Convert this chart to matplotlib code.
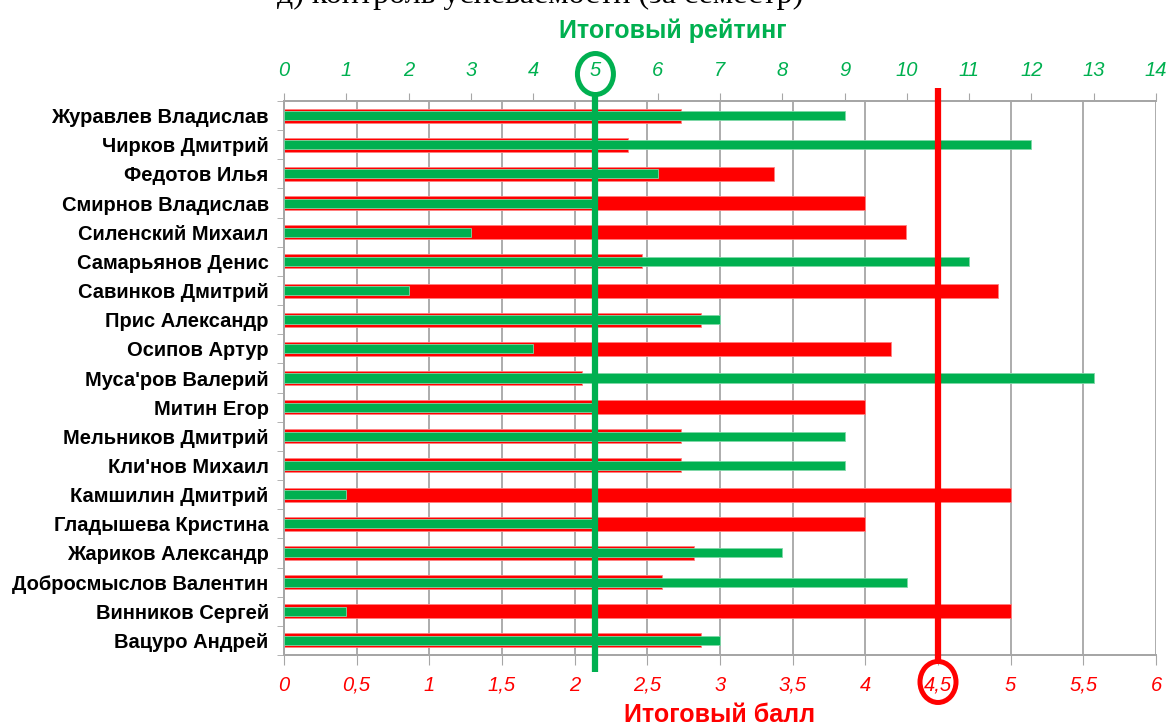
import matplotlib
matplotlib.use("Agg")
import matplotlib.pyplot as plt
import numpy as np
from matplotlib.patches import Ellipse
from matplotlib.transforms import blended_transform_factory

# данные с диаграммы
students = ["Журавлев Владислав", "Чирков Дмитрий", "Федотов Илья", "Смирнов Владислав",
            "Силенский Михаил", "Самарьянов Денис", "Савинков Дмитрий", "Прис Александр",
            "Осипов Артур", "Муса'ров Валерий", "Митин Егор", "Мельников Дмитрий",
            "Кли'нов Михаил", "Камшилин Дмитрий", "Гладышева Кристина", "Жариков Александр",
            "Добросмыслов Валентин", "Винников Сергей", "Вацуро Андрей"]
rating = [9, 12, 6, 5, 3, 11, 2, 7, 4, 13, 5, 9, 9, 1, 5, 8, 10, 1, 7]
score = [2.73, 2.37, 3.37, 4.0, 4.28, 2.46, 4.91, 2.87, 4.18, 2.05,
         4.0, 2.73, 2.73, 5.0, 4.0, 2.82, 2.6, 5.0, 2.87]
score_ticks = np.arange(0, 6.01, 0.5)
rating_ticks = np.arange(0, 15)
rating_limit = 5
score_limit = 4.5

RED = "#FF0000"
GREEN = "#00B050"
GRID = "#A6A6A6"

plt.rcParams['font.family'] = ['Liberation Sans', 'DejaVu Sans']

fig = plt.figure(figsize=(11.68, 7.27), dpi=100)
ax = fig.add_axes([284 / 1168, 1 - 655 / 727, 872 / 1168, 554 / 727])
ax2 = ax.twiny()

y = np.arange(len(students))

# красные полосы - итоговый балл (нижняя шкала)
ax.barh(y, score, height=0.48, color=RED, edgecolor="#FF8080", linewidth=0.6, zorder=2)
ax.set_xlim(0, 6)
ax.set_xticks(score_ticks)
ax.set_xticklabels([f"{v:g}".replace(".", ",") for v in score_ticks],
                   color=RED, fontsize=14.5, style="italic")
ax.xaxis.grid(True, color=GRID, lw=1.3)
ax.set_axisbelow(True)
ax.tick_params(axis="x", direction="out", length=7, color=GRID, pad=8)

ax.set_ylim(len(students) - 0.5, -0.5)
ax.set_yticks(y)
ax.set_yticklabels(students, fontsize=14.5, fontweight="bold")
ax.set_yticks(np.arange(-0.5, len(students)), minor=True)
ax.tick_params(axis="y", which="major", length=0, pad=11)
ax.tick_params(axis="y", which="minor", length=5, color=GRID, direction="out")

for a in (ax, ax2):
    for s in a.spines.values():
        s.set_color(GRID)
        s.set_linewidth(1.3)
    a.spines["right"].set_visible(False)

ax.set_xlabel("Итоговый балл", color=RED, fontsize=18, fontweight="bold")
ax.xaxis.set_label_coords(0.5, -0.086)

# зеленые полосы - итоговый рейтинг (верхняя шкала)
ax2.barh(y, rating, height=0.31, color=GREEN, edgecolor="#80D8A8", linewidth=0.6, zorder=3)
ax2.set_xlim(0, 14)
ax2.set_xticks(rating_ticks)
ax2.set_xticklabels([str(v) for v in rating_ticks], color=GREEN, fontsize=14.5, style="italic")
ax2.tick_params(axis="x", direction="out", length=6, color=GRID, pad=9)
ax2.set_xlabel("Итоговый рейтинг", color=GREEN, fontsize=18, fontweight="bold")
ax2.xaxis.set_label_coords(0.446, 1.114)

# пороговые линии и кружки
tr_green = blended_transform_factory(ax2.transData, ax2.transAxes)
tr_red = blended_transform_factory(ax.transData, ax2.transAxes)
ax2.plot([rating_limit, rating_limit], [1.013, -0.031], color=GREEN, lw=4.5,
         transform=tr_green, clip_on=False, zorder=5, solid_capstyle="butt")
ax2.plot([score_limit, score_limit], [1.0235, -0.0115], color=RED, lw=4.5,
         transform=tr_red, clip_on=False, zorder=6, solid_capstyle="butt")
ax2.add_patch(Ellipse((rating_limit, 1.0487), 36 / 62.3, 41 / 554, transform=tr_green,
                      fill=False, edgecolor=GREEN, lw=3.6, clip_on=False, zorder=5))
ax2.add_patch(Ellipse((score_limit, -0.0487), 36 / 145.3, 41 / 554, transform=tr_red,
                      fill=False, edgecolor=RED, lw=3.6, clip_on=False, zorder=6))

fig.text(540 / 1168, 1 - 3 / 727, "д) контроль успеваемости (за семестр)",
         family=['Liberation Serif', 'DejaVu Serif'], fontsize=23, ha="center", va="baseline")

fig.savefig("out.png", dpi=100)
